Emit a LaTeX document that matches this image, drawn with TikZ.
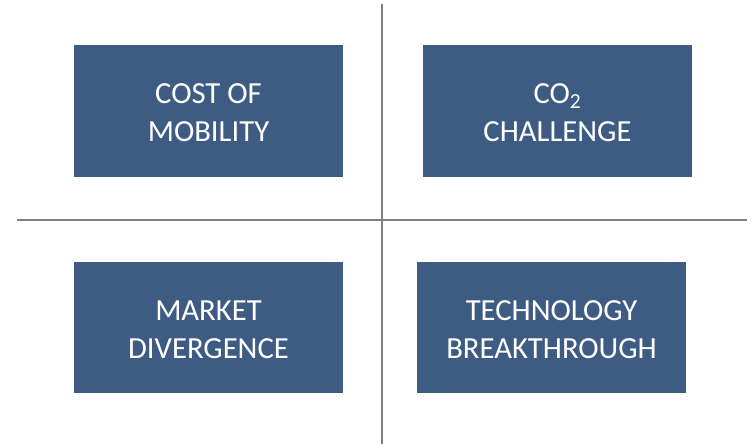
\documentclass[tikz,border=0pt]{standalone}
\usepackage{fontspec}
\setmainfont{Carlito}
\usepackage{xcolor}
\usepackage{tikz}
\definecolor{boxblue}{RGB}{62, 91, 132}
\definecolor{rulegray}{RGB}{128, 128, 128}
\newcommand{\firststrut}{\rule{0pt}{18pt}}

\begin{document}
\begin{tikzpicture}[x=0.75pt,y=0.75pt,yscale=-1,xscale=1,
  quadbox/.style={fill=boxblue,draw=none,text=white,align=center,
    minimum width=201.75pt,minimum height=98.5pt,inner sep=0pt,
    font=\fontsize{23}{28.5}\selectfont}]
\useasboundingbox (0,0) rectangle (752,444);

%Straight Lines [id:vertical]
\coordinate (vtop) at (382,4);
\coordinate (vbot) at (382,444);
\draw [color=rulegray, line width=1.5pt] (vtop) -- (vbot) ;
%Straight Lines [id:horizontal]
\coordinate (hleft) at (17,220);
\coordinate (hright) at (747,220);
\draw [color=rulegray, line width=1.5pt] (hleft) -- (hright) ;

% Boxes
\node [quadbox] (cost) at (208.5,111) {\firststrut COST OF\\MOBILITY};
\node [quadbox] (co2) at (557.5,111) {\firststrut CO\textsubscript{2}\\CHALLENGE};
\node [quadbox] (market) at (208.5,327.5) {\firststrut MARKET\\DIVERGENCE};
\node [quadbox] (tech) at (551.5,327.5) {\firststrut TECHNOLOGY\\BREAKTHROUGH};

\end{tikzpicture}
\end{document}
